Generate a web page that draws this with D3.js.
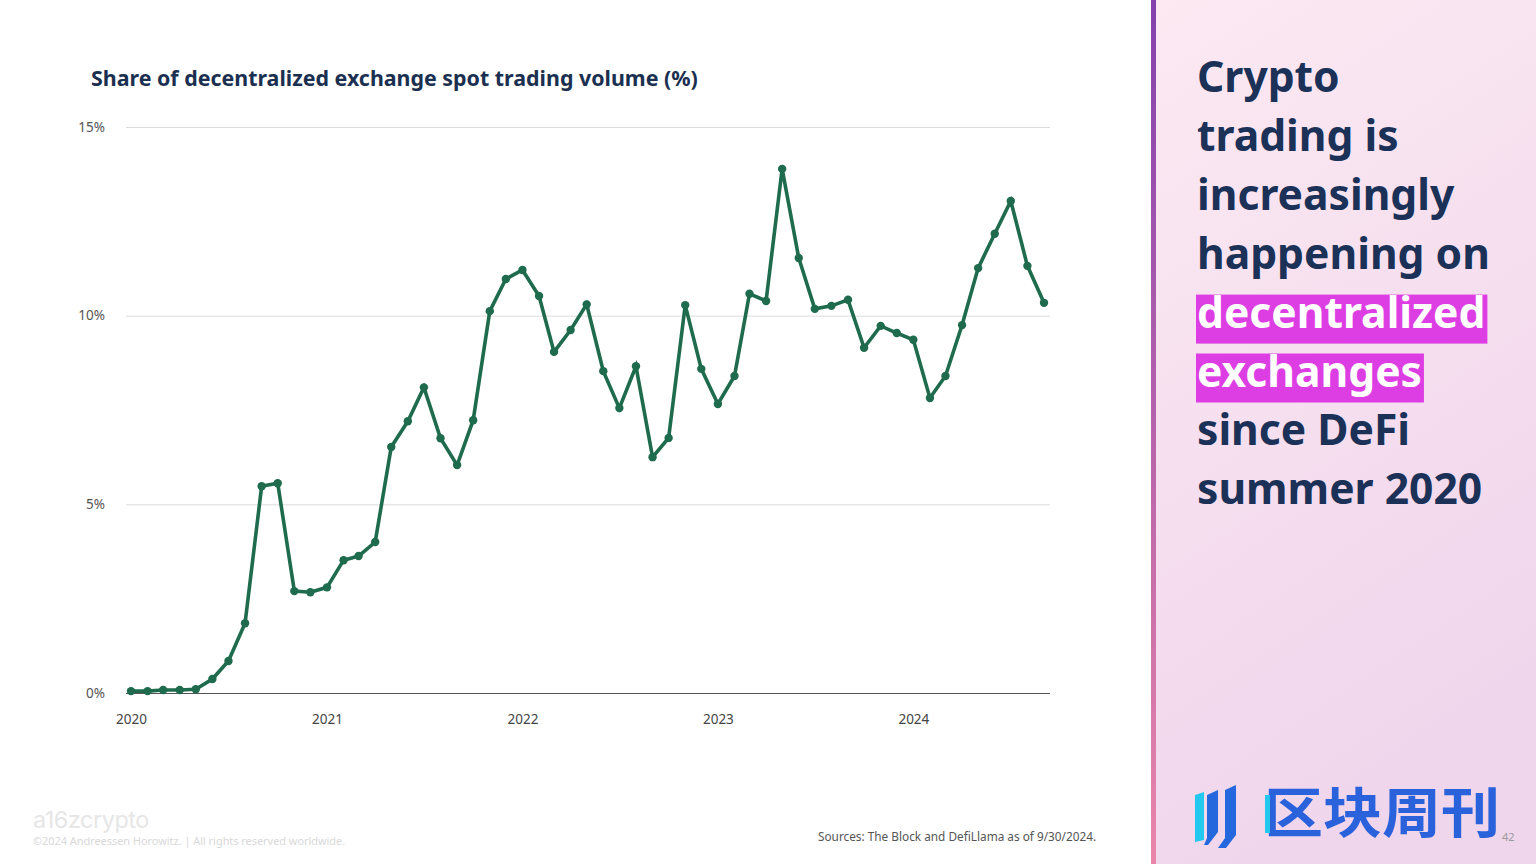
<!DOCTYPE html>
<html>
<head>
<meta charset="utf-8">
<script src="https://cdn.jsdelivr.net/npm/d3@7"></script>
<style>
  body { margin: 0; background: #fff; }
  svg { display: block; font-family: "Noto Sans", "Open Sans", sans-serif; }
</style>
</head>
<body>
<script>
// monthly data, Jan 2020 - Sep 2024
var months = [
  "2020-01","2020-02","2020-03","2020-04","2020-05","2020-06","2020-07","2020-08","2020-09","2020-10","2020-11","2020-12",
  "2021-01","2021-02","2021-03","2021-04","2021-05","2021-06","2021-07","2021-08","2021-09","2021-10","2021-11","2021-12",
  "2022-01","2022-02","2022-03","2022-04","2022-05","2022-06","2022-07","2022-08","2022-09","2022-10","2022-11","2022-12",
  "2023-01","2023-02","2023-03","2023-04","2023-05","2023-06","2023-07","2023-08","2023-09","2023-10","2023-11","2023-12",
  "2024-01","2024-02","2024-03","2024-04","2024-05","2024-06","2024-07","2024-08","2024-09"
];
var dexShare = [
  0.05, 0.05, 0.08, 0.08, 0.10, 0.37, 0.85, 1.85, 5.48, 5.56, 2.70, 2.67,
  2.80, 3.52, 3.63, 4.00, 6.52, 7.20, 8.10, 6.75, 6.04, 7.23, 10.12, 10.97,
  11.21, 10.52, 9.04, 9.62, 10.30, 8.53, 7.55, 8.66, 6.25, 6.76, 10.28, 8.59,
  7.66, 8.40, 10.58, 10.39, 13.89, 11.53, 10.18, 10.26, 10.42, 9.15, 9.73, 9.54,
  9.36, 7.82, 8.40, 9.75, 11.26, 12.17, 13.04, 11.32, 10.34
];
var yTicks = [0, 5, 10, 15];
var yearTicks = ["2020", "2021", "2022", "2023", "2024"];
var headline = ["Crypto", "trading is", "increasingly", "happening on", "decentralized", "exchanges", "since DeFi", "summer 2020"];
var highlighted = ["decentralized", "exchanges"];

var W = 1536, H = 864;
var parseMonth = d3.timeParse("%Y-%m");
var parseYear = d3.timeParse("%Y");

var svg = d3.select("body").append("svg")
    .attr("width", W)
    .attr("height", H);

var defs = svg.append("defs");
var bg = defs.append("linearGradient").attr("id", "panelBg")
    .attr("x1", 0).attr("y1", 0).attr("x2", 0.3).attr("y2", 1);
bg.append("stop").attr("offset", "0%").attr("stop-color", "#fce9f2");
bg.append("stop").attr("offset", "100%").attr("stop-color", "#f0d6ec");
var edge = defs.append("linearGradient").attr("id", "panelEdge")
    .attr("x1", 0).attr("y1", 0).attr("x2", 0).attr("y2", 1);
edge.append("stop").attr("offset", "0%").attr("stop-color", "#8442ad");
edge.append("stop").attr("offset", "100%").attr("stop-color", "#ea86aa");

// scales
var x = d3.scaleTime()
    .domain([parseMonth(months[0]), parseMonth(months[months.length - 1])])
    .range([131, 1044]);
var y = d3.scaleLinear()
    .domain([0, 15])
    .range([693, 127]);

// title
svg.append("text")
    .attr("x", 91)
    .attr("y", 86)
    .attr("font-size", "21.4px")
    .attr("font-weight", 700)
    .attr("fill", "#1b3050")
    .text("Share of decentralized exchange spot trading volume (%)");

// y grid + labels
var yAxis = svg.append("g")
    .attr("transform", "translate(126,0)")
    .call(d3.axisLeft(y).tickValues(yTicks).tickSize(-924).tickFormat(function(d) { return d + "%"; }));
yAxis.select(".domain").remove();
yAxis.selectAll(".tick line")
    .attr("stroke", function(d) { return d === 0 ? "#555" : "#dcdcdc"; })
    .attr("stroke-width", function(d) { return d === 0 ? 1.2 : 1; });
yAxis.selectAll(".tick text")
    .attr("x", -21)
    .attr("font-size", "13.5px")
    .attr("fill", "#555")
    .attr("font-family", "Noto Sans, sans-serif");

// x labels
var xAxis = svg.append("g")
    .attr("transform", "translate(0,693)")
    .call(d3.axisBottom(x).tickValues(yearTicks.map(parseYear)).tickSize(0).tickFormat(d3.timeFormat("%Y")));
xAxis.select(".domain").remove();
xAxis.selectAll(".tick text")
    .attr("dy", "2.05em")
    .attr("font-size", "13.5px")
    .attr("fill", "#444")
    .attr("font-family", "Noto Sans, sans-serif");

// line
var points = months.map(function(m, i) { return { date: parseMonth(m), value: dexShare[i] }; });
var line = d3.line()
    .x(function(d) { return x(d.date); })
    .y(function(d) { return y(d.value); });

svg.append("path")
    .datum(points)
    .attr("d", line)
    .attr("fill", "none")
    .attr("stroke", "#1f6b4d")
    .attr("stroke-width", 3.6);

svg.selectAll("circle.pt")
    .data(points)
    .enter()
    .append("circle")
    .attr("class", "pt")
    .attr("cx", function(d) { return x(d.date); })
    .attr("cy", function(d) { return y(d.value); })
    .attr("r", 4.2)
    .attr("fill", "#1f6b4d");

// footer
svg.append("text")
    .attr("x", 818).attr("y", 841)
    .attr("font-size", "11.8px")
    .attr("fill", "#555")
    .text("Sources: The Block and DefiLlama as of 9/30/2024.");
svg.append("text")
    .attr("x", 33).attr("y", 828)
    .attr("font-size", "23.5px")
    .attr("fill", "#e6e6e6")
    .attr("font-family", "Inter, sans-serif")
    .attr("letter-spacing", "-0.5")
    .text("a16zcrypto");
svg.append("text")
    .attr("x", 33).attr("y", 845)
    .attr("font-size", "10.9px")
    .attr("fill", "#d8d8d8")
    .text("©2024 Andreessen Horowitz. |  All rights reserved worldwide.");

// right panel
svg.append("rect")
    .attr("x", 1152).attr("y", 0)
    .attr("width", W - 1152).attr("height", H)
    .attr("fill", "url(#panelBg)");
svg.append("rect")
    .attr("x", 1151).attr("y", 0)
    .attr("width", 5).attr("height", H)
    .attr("fill", "url(#panelEdge)");

var lineH = 58.9;
var hl = svg.append("g").attr("font-size", "42.6px").attr("font-weight", 700);
headline.forEach(function(t, i) {
  var by = 92 + i * lineH;
  var txt = hl.append("text")
      .attr("x", 1197)
      .attr("y", by)
      .attr("fill", highlighted.indexOf(t) >= 0 ? "#fff" : "#1b3157")
      .text(t);
  if (highlighted.indexOf(t) >= 0) {
    var w = txt.node().getComputedTextLength();
    hl.insert("rect", function() { return txt.node(); })
        .attr("x", 1196)
        .attr("y", by - 33)
        .attr("width", w + 3)
        .attr("height", 49)
        .attr("fill", "#dd3ee3");
  }
});

// logo
var logo = svg.append("g");
logo.append("path")
    .attr("d", "M1195,795 L1204,792 L1204,840 L1195,842 Z")
    .attr("fill", "#22c8ee");
logo.append("path")
    .attr("d", "M1207,795 L1218,790 L1218,832 L1208,845 L1204,845 L1207,838 Z")
    .attr("fill", "#2568dd");
logo.append("path")
    .attr("d", "M1225,790 L1236,785 L1236,835 L1226,848 L1218,848 L1225,838 Z")
    .attr("fill", "#2568dd");
logo.append("text")
    .attr("x", 1264).attr("y", 833)
    .attr("font-size", "54px")
    .attr("font-weight", 700)
    .attr("font-family", "Noto Sans CJK SC, sans-serif")
    .attr("fill", "#2a62dc")
    .attr("textLength", 236)
    .attr("lengthAdjust", "spacingAndGlyphs")
    .text("区块周刊");
logo.append("rect")
    .attr("x", 1265).attr("y", 795).attr("width", 5).attr("height", 38)
    .attr("fill", "#22c8ee");
svg.append("text")
    .attr("x", 1502).attr("y", 841)
    .attr("font-size", "11px")
    .attr("fill", "#999")
    .text("42");
</script>
</body>
</html>
